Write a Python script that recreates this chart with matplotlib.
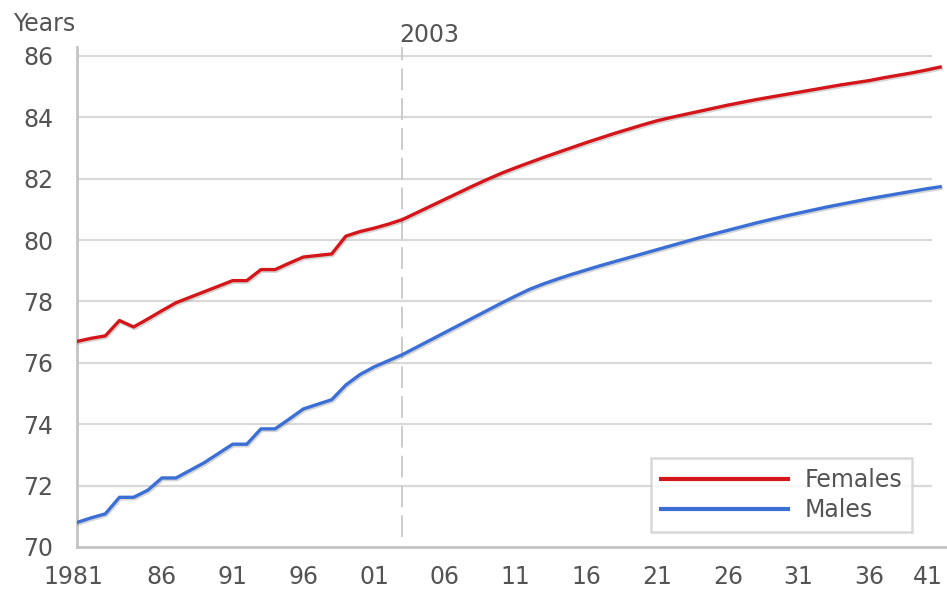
import numpy as np
import matplotlib
matplotlib.use("Agg")
import matplotlib.pyplot as plt
import matplotlib.patheffects as pe
from matplotlib.transforms import ScaledTranslation

# ---------------- data ----------------
years = list(range(1980, 2042))
females = [76.70, 76.80, 76.88, 77.38, 77.17, 77.43, 77.70, 77.96, 78.14, 78.32,
           78.50, 78.68, 78.68, 79.04, 79.04, 79.25, 79.45, 79.50, 79.55, 80.13,
           80.28, 80.39, 80.52, 80.67, 80.89, 81.11, 81.33, 81.55, 81.77, 81.98,
           82.18, 82.36, 82.53, 82.70, 82.86, 83.02, 83.18, 83.33, 83.48, 83.62,
           83.76, 83.89, 84.00, 84.10, 84.20, 84.30, 84.40, 84.49, 84.58, 84.66,
           84.74, 84.82, 84.90, 84.98, 85.06, 85.13, 85.20, 85.29, 85.37, 85.45,
           85.54, 85.64]
males = [70.80, 70.95, 71.08, 71.62, 71.62, 71.85, 72.25, 72.25, 72.50, 72.75,
         73.05, 73.35, 73.35, 73.85, 73.85, 74.17, 74.50, 74.65, 74.80, 75.28,
         75.62, 75.87, 76.07, 76.27, 76.51, 76.75, 76.99, 77.23, 77.47, 77.71,
         77.95, 78.18, 78.40, 78.58, 78.74, 78.89, 79.03, 79.17, 79.30, 79.43,
         79.56, 79.69, 79.82, 79.95, 80.08, 80.20, 80.32, 80.44, 80.56, 80.67,
         80.78, 80.88, 80.98, 81.08, 81.17, 81.26, 81.35, 81.43, 81.51, 81.59,
         81.67, 81.74]
tick_years = [1981, 1986, 1991, 1996, 2001, 2006, 2011, 2016, 2021, 2026, 2031, 2036, 2041]
tick_labels = ["1981", "86", "91", "96", "01", "06", "11", "16", "21", "26", "31", "36", "41"]
y_ticks = [70, 72, 74, 76, 78, 80, 82, 84, 86]
marker_year = 2003
series_names = ["Females", "Males"]

# ---------------- style ----------------
plt.rcParams['font.family'] = ['DejaVu Sans']
TXT = '#545454'
GRID = '#d9d9d9'
AX = '#c4c4c4'
RED = '#d4161b'
BLUE = '#3b6fd6'
FS = 17

fig = plt.figure(figsize=(9.47, 5.90), dpi=100)
ax = fig.add_axes([77/947, 43/590, 870/947, 500/590])
ax.set_xlim(1980, 1980 + 870/14.15)
ax.set_ylim(70, 86 + 9/30.69)

# gridlines (stop a little before the right edge)
ax.hlines(y_ticks[1:], 1980, 2040.4, colors=GRID, linewidth=1.6, zorder=1)

# dashed 2003 marker
vl = ax.axvline(marker_year, ymin=0.02, ymax=1.0, color='#c8c8c8', linewidth=1.3, zorder=1.5)
vl.set_dashes((12, 4.5))
ax.annotate(str(marker_year), xy=(marker_year, 1.0), xycoords=('data', 'axes fraction'),
            xytext=(-2, 0), textcoords='offset points', ha='left', va='bottom',
            fontsize=FS, color=TXT)

shadow = [pe.SimpleLineShadow(offset=(0.8, -1.2), shadow_color='#888888', alpha=0.35), pe.Normal()]
ax.plot(years, females, color=RED, linewidth=2.4, label=series_names[0], zorder=3,
        path_effects=shadow, solid_joinstyle='round')
ax.plot(years, males, color=BLUE, linewidth=2.4, label=series_names[1], zorder=3,
        path_effects=shadow, solid_joinstyle='round')

# spines
for s in ['top', 'right']:
    ax.spines[s].set_visible(False)
for s in ['left', 'bottom']:
    ax.spines[s].set_color(AX)
    ax.spines[s].set_linewidth(2.0)

ax.set_yticks(y_ticks)
ax.set_yticklabels([str(v) for v in y_ticks])
ax.set_xticks(tick_years)
ax.set_xticklabels(tick_labels)
ax.tick_params(axis='both', length=0, labelsize=FS, labelcolor=TXT)
ax.tick_params(axis='y', pad=17)
ax.tick_params(axis='x', pad=13)

# nudge first/last x labels like the reference
xl = ax.get_xticklabels()
xl[0].set_transform(xl[0].get_transform() + ScaledTranslation(-18/100, 0, fig.dpi_scale_trans))
xl[-1].set_transform(xl[-1].get_transform() + ScaledTranslation(-12/100, 0, fig.dpi_scale_trans))

fig.text(13/947, 1 - 24/590, "Years", ha='left', va='center', fontsize=FS, color=TXT)

leg = ax.legend(loc='lower right', bbox_to_anchor=(0.96, 0.03), borderaxespad=0,
                fontsize=FS, frameon=True, fancybox=False, handlelength=5.4,
                handletextpad=0.7, labelspacing=0.25, borderpad=0.42, labelcolor=TXT)
leg.get_frame().set_edgecolor('#cfcfcf')
leg.get_frame().set_linewidth(1.8)
for h in leg.legend_handles:
    h.set_path_effects([])
    h.set_linewidth(3)

fig.savefig('out.png', dpi=100, facecolor='white')
